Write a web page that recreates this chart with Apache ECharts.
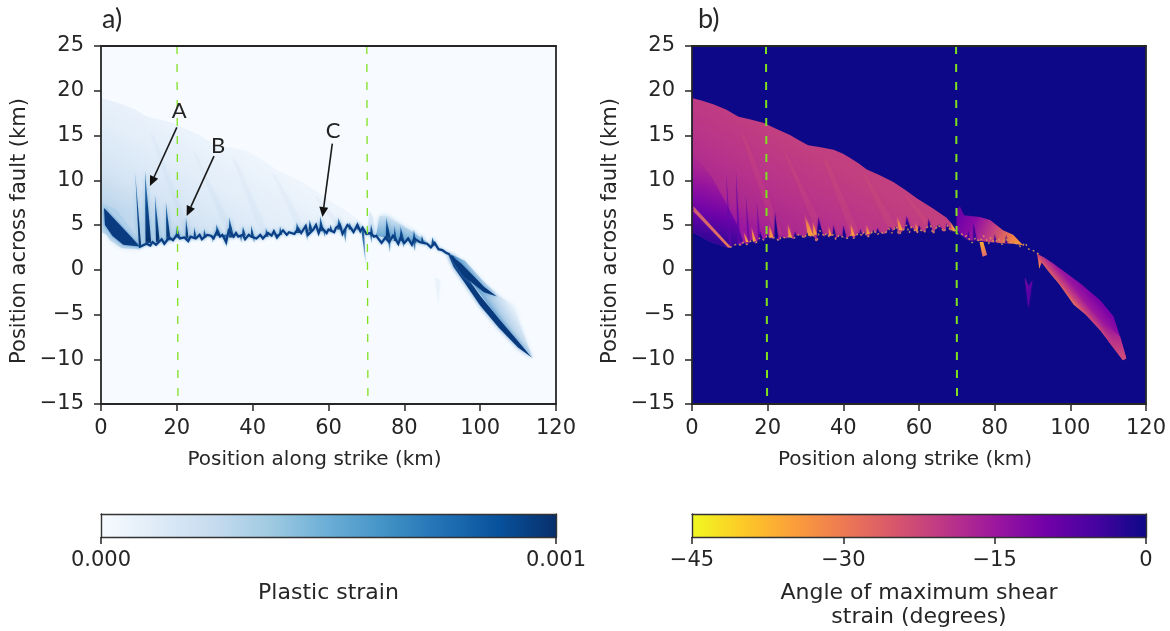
<!DOCTYPE html>
<html><head><meta charset="utf-8">
<style>html,body{margin:0;padding:0;background:#fff}#c{width:1170px;height:631px;filter:blur(0.55px)}</style>
<script src="https://cdn.jsdelivr.net/npm/echarts@6/dist/echarts.min.js"></script>
</head><body><div id="c"></div>
<script>
// ---------- data (x km along strike, y km across fault) ----------
const xRange = [0, 120], yRange = [-15, 25];
const strainRange = [0, 0.001], angleRange = [-45, 0];
const panelTitles = ['a)', 'b)'];
const blues = ['#f7fbff','#deebf7','#c6dbef','#9ecae1','#6baed6','#4292c6','#2171b5','#08519c','#08306b'];
const plasma = ['#f0f921','#fdca26','#fb9f3a','#ed7953','#d8576b','#bd3786','#9c179e','#7201a8','#46039f','#0d0887'];

const envelope = [[0.2,19.15],[2.5,18.9],[5.6,18.5],[9,17.9],[12.3,17.1],[15.5,16.8],[19,16.4],[22.5,15.7],[25.9,15.05],[28.5,14.4],[30.7,13.9],[34,13.7],[37.4,13.4],[39.8,13],[41.8,12.5],[44,11.9],[46.2,11.2],[49.5,10.6],[53.2,9.8],[56.4,8.9],[59.4,8],[63.5,6.9],[67.3,5.8],[68.7,5.1],[69.5,4.4]];
const leftBase = [[0.2,4.2],[5,3.1],[10,2.4]];
const faultTrace = [[10,2.5],[11,2.7],[12,2.9],[13,2.7],[13.6,3.1],[14.5,2.8],[16,3.4],[16.7,2.9],[18,3.6],[19,3.3],[20,3.9],[20.8,3.5],[22,3.6],[23,3.2],[23.6,3.7],[25,3.5],[26,3.9],[26.6,3.4],[28,3.9],[29,3.8],[29.7,3.5],[30.6,4.3],[31.4,3.7],[32,3.9],[33,3.1],[33.7,4.4],[35,3.7],[35.6,4.1],[36.2,3.7],[37.4,3.9],[38,3.4],[39,3.9],[39.6,3.7],[41,3.5],[42,3.9],[42.7,3.5],[44,4.1],[45,3.8],[45.6,4.3],[46.4,3.6],[48,4.4],[49,3.9],[49.6,4.2],[51,4],[52,4.6],[52.8,4.1],[54,4.9],[54.6,3.9],[56,4.5],[56.7,5],[57.4,4.1],[58,4.8],[59.5,4.1],[60,4.5],[61.5,4.2],[62,4.7],[63,5],[63.7,4],[65,5],[66,4.6],[66.6,4.2],[67.6,5],[68.4,4.3],[69,4.7],[70,4],[71,4.1],[72,3.7],[72.6,3.8],[74,3],[75,3.6],[76,3.1],[77,3.8],[77.6,3.5],[78.4,2.9],[79,3.6],[80,3],[81,3.5],[82,2.8],[82.6,3.5],[84,3.1],[85,3],[86,2.9],[87,2.5],[88,3],[89,2.3],[90,2.2],[91,1.9],[92,1.7]];
// spikes: [x at top, top y, half width at base, x at base, base y]
const spikes = [[9,10.95,0.3,10.3,2.6],[11.6,11.1,0.75,12.5,3],[14.2,8.4,0.5,15,3.1],[17.1,7.6,0.55,17.8,3.3],[20,4.9,0.6,20.3,3.6],[22.4,5.9,0.4,22.7,3.5],[24.6,4.8,0.4,24.8,3.5],[27.2,4.6,0.4,27.4,3.6],[30.4,5.1,0.6,31,3.8],[33.8,5.9,0.7,34.4,3.6],[37.4,4.9,0.5,37.7,3.8],[39.6,5,0.45,40,3.6],[43.5,4.7,0.4,43.8,3.7],[47.2,4.9,0.4,47.4,3.9],[51.6,5.3,0.6,52,4.1],[55,5.6,0.6,55.3,4.3],[57.8,6,0.6,58.2,4.3],[60.5,5.1,0.4,60.7,4.3],[62.6,5.8,0.7,63,4.5],[65.5,5.3,0.5,65.8,4.5],[67.6,5.4,0.5,67.9,4.5],[71.2,5.2,0.4,71.4,3.9],[75.2,5.9,0.7,75.8,3.3],[77.4,5,0.4,77.6,3.2],[79,4.9,0.6,79.4,3.2],[82.5,4.5,0.5,82.7,3],[84.6,3.9,0.4,84.8,3],[87.4,3.7,0.5,87.6,2.7]];
const drops = [[33.1,2.5,0.55,32.8,3.9],[29.5,3,0.3,29.4,3.8],[37,3,0.3,36.9,3.8],[40.4,3,0.3,40.3,3.7],[46.6,3.3,0.3,46.5,4],[54.4,3.2,0.35,54.2,4.4],[59,3.6,0.3,58.9,4.3],[64.5,3,0.45,64.3,4.5],[69.8,0.7,0.35,69,4.5],[76.2,1.9,0.35,76,3.4],[79.8,2.4,0.3,79.7,3.2],[82.8,2.0,0.35,82.6,3.1],[71.4,2.9,0.3,71.2,4]];
const hazeStreaks = [[[33,4.2],[35,4.4],[25,13],[24,13.4]],[[42,4],[44,4.3],[36,12],[34.5,12.6]],[[52,4.5],[54,4.8],[46,10.6],[45,10.8]],[[22,3.8],[24,3.9],[14,15],[13,15.2]],[[62,4.8],[63.5,5],[57,8.2],[56,8.4]]];
const wedge = [[0.8,6.9],[10.3,2.6],[5.9,2.8],[3,3.8],[1.05,5]];
const wedgeGlow = [[0.3,7.5],[4,6.8],[10.8,3],[10,2.3],[5.5,2.4],[2.4,3.3],[0.6,4.4]];
const haze2 = [[72.5,3.8],[73.5,6],[75.5,6],[78,5.3],[82.4,4.2],[86,3.1],[80,3.2]];
const haze3 = [[70.2,4.2],[70.8,6.6],[71.8,5.8],[72.4,3.8]];
const bandHaze = [[92,1.8],[96,1],[100,-0.9],[104,-2.6],[108.8,-4.1],[111.4,-7.1],[114,-10],[110,-8],[104,-5],[98,-1.5]];
const bandLower = [[91.5,1.8],[93,1.5],[96,-0.5],[100,-2.9],[105,-5.5],[110,-8],[113.6,-9.8],[110,-8.7],[105,-6.5],[100,-4],[96,-1.5],[93,0.3]];
const bandUpper = [[92,1.7],[95,0.7],[98,-0.6],[101,-1.9],[104.4,-3.0],[101,-2.5],[98,-1.5],[95.5,-0.7],[93,0.8]];
const faintSliver = [[88,-0.8],[88.9,-4],[89.6,-1.2]];

// panel b
const purpleLeft = [[0.2,13],[5,10.5],[9,7.5],[12,5],[13.5,3.2],[10,2.4],[5,3.1],[0.2,4.2]];
const pinkWedge = [[0.4,7.1],[10.4,2.5],[9.5,2.5],[0.4,6.5]];
const purpleStreaks = [[9,11,0.3,10.1,2.6],[11.6,11.1,0.35,12.4,3],[14.2,8.4,0.3,15,3.1],[17.1,7.6,0.3,17.8,3.3]];
const darkSpikes = [[18,4.3,0.5,18.2,3.3],[21.9,6.5,0.5,22.3,3.5],[27.2,4.3,0.4,27.4,3.6],[33.4,5.9,0.9,33.9,3.6],[37.4,5,0.45,37.6,3.7],[40,5,0.5,40.3,3.6],[44.5,4.6,0.4,44.6,3.8],[49,4.7,0.5,49.2,4],[52.3,4.8,0.7,52.6,4.1],[56.7,6,0.9,57.2,4.2],[60,5,0.6,60.2,4.2],[62.5,5.7,0.7,62.9,4.3],[65.3,5.1,0.5,65.5,4.4],[67.3,5.2,0.45,67.5,4.4]];
const flames = [[13.5,4.4,0.35,14.6,3.1],[15.6,5,0.4,16.5,3.2],[20.4,5.2,0.5,21,3.6],[25.2,5.4,0.45,26,3.6],[29.6,6.4,0.7,31.4,3.8],[31.8,5.6,0.5,32.6,3.9],[36,5,0.35,36.6,3.8],[41.8,5.4,0.45,42.6,3.8],[46,5.2,0.4,46.6,4],[54,6.2,0.5,55.2,4.4],[59,5.4,0.4,59.6,4.3],[68,5.5,0.5,69.4,4.3]];
const region2 = [[69.9,4.6],[69.9,6.6],[70.8,7.1],[71.9,6.1],[76.1,5.9],[78.8,5.55],[82.2,4.4],[84.9,3.9],[87.5,2.75],[85,2.9],[81,3],[76,3.2],[73,3.3],[71,3.9]];
const region2Dark = [[74.4,5.2,0.5,74.8,3.2],[73,4.4,0.3,73.1,3.4],[80,4,0.35,80.2,3],[83,3.9,0.3,83.1,2.9]];
const orangeWedge = [[76,3.1],[76.8,1.46],[78,1.65],[77,3.1]];
const sliver = [[88,-0.8],[88.9,-4.3],[90,-1.15],[88.9,-1.9]];
const band = [[91.2,1.8],[93,1.4],[95.5,0.7],[99,-0.4],[102.6,-1.5],[107.9,-3.4],[111.4,-5.2],[113.2,-7.5],[114.8,-9.9],[113.9,-10.1],[110.5,-8.2],[107.9,-6.8],[104,-5],[100.9,-3.9],[97,-1.6],[94.6,-0.4],[92.4,0.8],[91.8,0.1],[91.5,1]];
const bandTip = [[108,-5.6],[113.2,-7.5],[114.8,-9.9],[113.9,-10.1],[110,-8]];

const greenLinesA = [[[20.05,25],[20.3,-15]],[[70.1,25],[70.4,-15]]];
const greenLinesB = [[[19.56,25],[19.85,-15]],[[69.8,25],[70.05,-15]]];
const notes = [['A',20.6,17.7,20,15.9,12.9,9.35],['B',30.9,13.8,29.8,12.7,22.6,6.0],['C',61.2,15.5,61,14.1,58.4,5.9]];

// ---------- layout ----------
const FONT = 'DejaVu Sans', INK = '#262626';
const grids = [
  {left:101,top:46,width:455,height:358,show:true,borderWidth:0,backgroundColor:'#f7fbff',outerBoundsMode:'none'},
  {left:692,top:46,width:454,height:358,show:true,borderWidth:0,backgroundColor:'#0d0887',outerBoundsMode:'none'},
  {left:101,top:514,width:455,height:23,outerBoundsMode:'none'},
  {left:692,top:514,width:454,height:23,outerBoundsMode:'none'}
];
const frame = {show:true,onZero:false,lineStyle:{color:INK,width:1.8}};
const thinFrame = {show:true,onZero:false,lineStyle:{color:'#333',width:1.4}};
function bottomAxis(grid,min,max,interval,name,gap,line,fmt,nameStyle,margin){
  return {type:'value',gridIndex:grid,position:'bottom',min,max,interval,z:20,axisLine:line,splitLine:{show:false},
    axisTick:{show:true,length:7,lineStyle:{color:INK,width:1.5}},
    axisLabel:{show:true,color:INK,fontFamily:FONT,fontSize:21,margin,hideOverlap:false,showMinLabel:true,showMaxLabel:true,formatter:fmt||(v=>String(v).replace('-','\u2212'))},
    name,nameLocation:'middle',nameGap:gap,nameTextStyle:Object.assign({color:INK,fontFamily:FONT,lineHeight:24},nameStyle)};
}
function hiddenAxis(grid,pos,min,max,line){
  return {type:'value',gridIndex:grid,position:pos,min,max,z:20,axisLine:line,axisTick:{show:false},axisLabel:{show:false},splitLine:{show:false}};
}
function leftAxis(grid){
  return {type:'value',gridIndex:grid,position:'left',min:yRange[0],max:yRange[1],interval:5,z:20,axisLine:frame,splitLine:{show:false},
    axisTick:{show:true,length:7,lineStyle:{color:INK,width:1.5}},
    axisLabel:{color:INK,fontFamily:FONT,fontSize:21,margin:17,formatter:v=>String(v).replace('-','\u2212')},
    name:'Position across fault (km)',nameLocation:'middle',nameGap:71,nameRotate:90,nameTextStyle:{color:INK,fontFamily:FONT,fontSize:21,padding:[0,12,0,0]}};
}
const strikeName = {fontSize:20,padding:[0,28,0,0]};
const xAxes = [
  bottomAxis(0,xRange[0],xRange[1],20,'Position along strike (km)',44,frame,null,strikeName,14),
  bottomAxis(1,xRange[0],xRange[1],20,'Position along strike (km)',44,frame,null,strikeName,14),
  hiddenAxis(0,'top',xRange[0],xRange[1],frame),
  hiddenAxis(1,'top',xRange[0],xRange[1],frame),
  bottomAxis(2,strainRange[0],strainRange[1],0.001,'Plastic strain',44,thinFrame,v=>v.toFixed(3),{fontSize:22},13),
  bottomAxis(3,angleRange[0],angleRange[1],15,'Angle of maximum shear\nstrain (degrees)',44,thinFrame,null,{fontSize:22},13),
  hiddenAxis(2,'top',strainRange[0],strainRange[1],thinFrame),
  hiddenAxis(3,'top',angleRange[0],angleRange[1],thinFrame)
];
const yAxes = [
  leftAxis(0), leftAxis(1),
  hiddenAxis(0,'right',yRange[0],yRange[1],frame),
  hiddenAxis(1,'right',yRange[0],yRange[1],frame),
  hiddenAxis(2,'left',0,1,thinFrame), hiddenAxis(3,'left',0,1,thinFrame),
  hiddenAxis(2,'right',0,1,thinFrame), hiddenAxis(3,'right',0,1,thinFrame)
];

// ---------- drawing helpers (all positions go through the axes) ----------
function grad(api,a,b,colors,stops){
  const p=api.coord(a), q=api.coord(b);
  return {type:'linear',global:true,x:p[0],y:p[1],x2:q[0],y2:q[1],
    colorStops:colors.map((c,i)=>({offset:stops?stops[i]:i/(colors.length-1),color:c}))};
}
function polys(panel,z,list,styleFn){
  return {type:'custom',xAxisIndex:panel,yAxisIndex:panel,z,silent:true,animation:false,clip:true,
    data:list.map((p,i)=>[p[0][0],p[0][1],i]),
    renderItem(params,api){
      const pts=list[params.dataIndex];
      return {type:'polygon',shape:{points:pts.map(q=>api.coord(q))},style:styleFn(api,pts,params.dataIndex)};
    }};
}
function spikeSeries(panel,z,list,styleFn){
  return {type:'custom',xAxisIndex:panel,yAxisIndex:panel,z,silent:true,animation:false,clip:true,
    data:list.map((s,i)=>[s[0],s[1],i]),
    renderItem(params,api){
      const s=list[params.dataIndex];
      return {type:'polygon',shape:{points:[[s[0],s[1]],[s[3]+s[2],s[4]],[s[3]-s[2],s[4]]].map(q=>api.coord(q))},style:styleFn(api,s)};
    }};
}
function lineSeries(panel,z,pts,opt){
  return Object.assign({type:'line',xAxisIndex:panel,yAxisIndex:panel,z,silent:true,animation:false,showSymbol:false,symbol:'none',data:pts},opt);
}
function colorbar(axis,range,colors){
  return {type:'custom',xAxisIndex:axis,yAxisIndex:axis,z:3,silent:true,animation:false,clip:false,
    data:[[range[0],0]],
    renderItem(params,api){
      const a=api.coord([range[0],1]), b=api.coord([range[1],0]);
      return {type:'rect',shape:{x:a[0],y:a[1],width:b[0]-a[0],height:b[1]-a[1]},
        style:{fill:{type:'linear',x:0,y:0,x2:1,y2:0,colorStops:colors.map((c,i)=>({offset:i/(colors.length-1),color:c}))}}};
    }};
}

const fieldOutline = envelope.concat(faultTrace.filter(p=>p[0]<=69).slice().reverse(), leftBase.slice().reverse());
const series = [
  // ----- panel a -----
  polys(0,2,[fieldOutline],api=>({fill:grad(api,[20,3],[42,19],['#c0d8ed','#d6e5f4','#e3eef9','#edf4fc','#f7fbff'],[0,0.18,0.42,0.66,0.85])})),
  polys(0,2,hazeStreaks,api=>({fill:'rgba(150,190,225,0.07)',shadowBlur:6,shadowColor:'rgba(150,190,225,0.25)'})),
  polys(0,2,[haze2],api=>({fill:grad(api,[76,3],[78,6.4],['#5a9fd0','#a8cbe6','#eef5fc']),shadowBlur:5,shadowColor:'rgba(170,205,235,0.8)'})),
  polys(0,2,[haze3],api=>({fill:'rgba(190,215,238,0.4)',shadowBlur:3,shadowColor:'rgba(190,215,238,0.6)'})),
  polys(0,2,[faintSliver],api=>({fill:'rgba(222,235,247,0.35)',shadowBlur:3,shadowColor:'rgba(222,235,247,0.6)'})),
  polys(0,3,[wedgeGlow],api=>({fill:'rgba(170,205,232,0.75)',shadowBlur:5,shadowColor:'rgba(190,215,238,0.8)'})),
  polys(0,4,[wedge],api=>({fill:'#0a3a7f',shadowBlur:3,shadowColor:'rgba(40,110,180,0.9)'})),
  spikeSeries(0,5,spikes,(api,s)=>({fill:grad(api,[s[3],s[4]],[s[0],s[1]],['#08306b','#0b4a90','#5a9cce']),shadowBlur:4,shadowColor:'rgba(66,146,198,0.65)'})),
  spikeSeries(0,5,drops,(api,s)=>({fill:grad(api,[s[3],s[4]],[s[0],s[1]],['#0b4a90','#9ec4e0']),shadowBlur:3,shadowColor:'rgba(107,174,214,0.5)'})),
  lineSeries(0,6,faultTrace,{lineStyle:{color:'#0a3d84',width:2.2,join:'miter',shadowBlur:3,shadowColor:'rgba(66,146,198,0.7)'}}),
  polys(0,4,[bandHaze],api=>({fill:grad(api,[101,-3.8],[108,-2],['#6fa9d6','#b7d3ea','#e8f1fa','#f7fbff'],[0,0.35,0.75,1]),shadowBlur:4,shadowColor:'rgba(200,222,242,0.7)'})),
  polys(0,5,[bandLower,bandUpper],api=>({fill:'#08397c',shadowBlur:4,shadowColor:'rgba(60,130,195,0.85)'})),
  // ----- panel b -----
  polys(1,2,[fieldOutline],api=>({fill:grad(api,[20,3],[42,19],['#9a16a0','#ab2890','#b8348a','#c23f80','#c5427f'],[0,0.12,0.34,0.62,0.8])})),
  polys(1,3,hazeStreaks,api=>({fill:'rgba(225,95,110,0.16)',shadowBlur:4,shadowColor:'rgba(225,95,110,0.2)'})),
  polys(1,3,[purpleLeft],api=>({fill:grad(api,[1,3.6],[7,13],['rgba(50,5,150,1)','rgba(105,2,168,0.95)','rgba(140,10,165,0.6)','rgba(170,35,145,0)'],[0,0.3,0.62,1])})),
  spikeSeries(1,4,purpleStreaks,(api,s)=>({fill:'rgba(95,5,170,0.7)',shadowBlur:2,shadowColor:'rgba(95,5,170,0.5)'})),
  spikeSeries(1,4,flames,(api,s)=>({fill:grad(api,[s[3],s[4]],[s[0],s[1]],['#fca636','#ef7f4f','rgba(214,90,110,0)']),shadowBlur:3,shadowColor:'rgba(240,130,80,0.35)'})),
  spikeSeries(1,5,darkSpikes,(api,s)=>({fill:grad(api,[s[3],s[4]],[s[0],s[1]],['#0d0887','#1d0690','#6a00a8']),shadowBlur:2,shadowColor:'rgba(70,3,159,0.7)'})),
  polys(1,5,[pinkWedge],api=>({fill:grad(api,[0.4,7],[10.4,2.5],['#cf5a74','#e87a5a'])})),
  polys(1,3,[region2],api=>({fill:grad(api,[70,6],[86,3],['#6a00a8','#8d0ba4','#c23f84','#e8744f','#f5923f'],[0,0.28,0.58,0.85,1])})),
  spikeSeries(1,4,region2Dark,(api,s)=>({fill:'#3b049a',shadowBlur:2,shadowColor:'rgba(70,3,159,0.7)'})),
  polys(1,4,[orangeWedge],api=>({fill:grad(api,[76,3.1],[77.4,1.5],['#f9b030','#e2696a'])})),
  polys(1,4,[sliver],api=>({fill:grad(api,[88,-1],[90,-1.4],['#9318a0','#7a02a8','#5c01a6']),shadowBlur:2,shadowColor:'rgba(100,2,165,0.7)'})),
  polys(1,4,[band],api=>({fill:grad(api,[100,-4.4],[107.5,-1.8],['#fdc328','#f48849','#cc4778','#9c179e','#7e03a8','#6a00a8'],[0.02,0.1,0.25,0.45,0.72,1])})),
  polys(1,5,[bandTip],api=>({fill:grad(api,[109.5,-5.5],[114.5,-10],['rgba(170,35,145,0)','rgba(190,55,134,0.85)','#d0507a'],[0,0.6,1])})),
  lineSeries(1,6,faultTrace,{lineStyle:{color:'#d99a5a',width:1.4,type:[2,3],opacity:0.9}}),
  // ----- verticals -----
  ...greenLinesA.map(l=>lineSeries(0,8,l,{lineStyle:{color:'#7fe020',width:1.3,type:[8,10]}})),
  ...greenLinesB.map(l=>lineSeries(1,8,l,{lineStyle:{color:'#7fe020',width:2,type:[8,10]}})),
  // ----- annotations -----
  {type:'custom',xAxisIndex:0,yAxisIndex:0,z:10,silent:true,animation:false,clip:false,
   data:notes.map(n=>[n[1],n[2]]),
   renderItem(params,api){
     const n=notes[params.dataIndex];
     const t=api.coord([n[1],n[2]]), a=api.coord([n[3],n[4]]), b=api.coord([n[5],n[6]]);
     const dx=b[0]-a[0], dy=b[1]-a[1], L=Math.hypot(dx,dy), ux=dx/L, uy=dy/L, h=10, w=4.5;
     const neck=[b[0]-ux*h,b[1]-uy*h];
     return {type:'group',children:[
       {type:'line',shape:{x1:a[0],y1:a[1],x2:neck[0],y2:neck[1]},style:{stroke:'#1a1a1a',lineWidth:1.6}},
       {type:'polygon',shape:{points:[b,[neck[0]-uy*w,neck[1]+ux*w],[neck[0]+uy*w,neck[1]-ux*w]]},style:{fill:'#111'}},
       {type:'text',x:t[0],y:t[1],style:{text:n[0],fill:'#222',font:'22px Lato',align:'center',verticalAlign:'middle'}}
     ]};
   }},
  // ----- colour bars -----
  colorbar(4,strainRange,blues),
  colorbar(5,angleRange,plasma)
];
const option = {
  animation:false,
  backgroundColor:'#fff',
  title:[
    {text:panelTitles[0],left:97,top:1,textStyle:{fontFamily:'Lato',fontSize:27,fontWeight:'normal',color:INK}},
    {text:panelTitles[1],left:693,top:1,textStyle:{fontFamily:'Lato',fontSize:27,fontWeight:'normal',color:INK}}
  ],
  grid:grids,xAxis:xAxes,yAxis:yAxes,series
};
echarts.init(document.getElementById('c'),null,{renderer:'canvas'}).setOption(option);
</script></body></html>
